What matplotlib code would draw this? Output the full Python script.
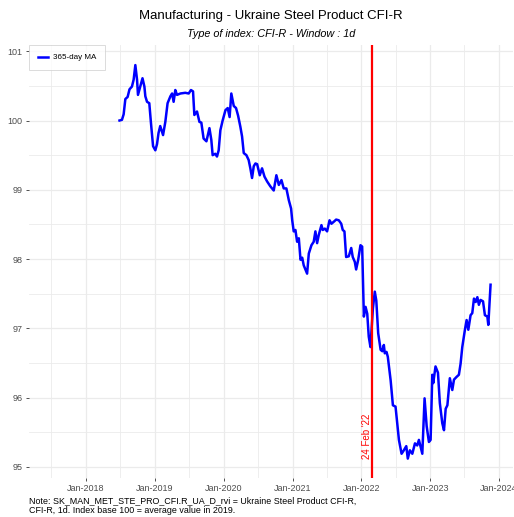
import numpy as np
import pandas as pd
import matplotlib
matplotlib.use("Agg")
import matplotlib.pyplot as plt
import matplotlib.dates as mdates

plt.rcParams['font.family'] = ['Liberation Sans', 'DejaVu Sans']

# 365-day moving average
dates = [
    "2018-06-28", "2018-07-11", "2018-07-20", "2018-07-29", "2018-08-10", "2018-08-20",
    "2018-09-02", "2018-09-11", "2018-09-20", "2018-09-29", "2018-10-04", "2018-10-16",
    "2018-10-28", "2018-11-07", "2018-11-12", "2018-11-21", "2018-12-03", "2018-12-12",
    "2018-12-23", "2019-01-04", "2019-01-13", "2019-01-21", "2019-01-30", "2019-02-14",
    "2019-02-26", "2019-03-10", "2019-03-25", "2019-04-03", "2019-04-11", "2019-04-20",
    "2019-04-29", "2019-05-17", "2019-06-12", "2019-06-30", "2019-07-12", "2019-07-23",
    "2019-07-30", "2019-08-13", "2019-08-26", "2019-09-05", "2019-09-17", "2019-10-02",
    "2019-10-18", "2019-10-28", "2019-11-04", "2019-11-18", "2019-11-27", "2019-12-06",
    "2019-12-15", "2019-12-27", "2020-01-11", "2020-01-23", "2020-02-02", "2020-02-11",
    "2020-02-24", "2020-03-07", "2020-03-18", "2020-03-30", "2020-04-08", "2020-04-17",
    "2020-05-01", "2020-05-13", "2020-05-22", "2020-05-31", "2020-06-09", "2020-06-18",
    "2020-06-27", "2020-07-11", "2020-07-23", "2020-08-05", "2020-08-19", "2020-09-05",
    "2020-09-23", "2020-10-07", "2020-10-20", "2020-11-03", "2020-11-15", "2020-11-29",
    "2020-12-12", "2020-12-24", "2020-12-30", "2021-01-07", "2021-01-16", "2021-01-25",
    "2021-02-03", "2021-02-12", "2021-02-21", "2021-03-01", "2021-03-19", "2021-03-28",
    "2021-04-11", "2021-04-23", "2021-05-02", "2021-05-11", "2021-05-20", "2021-06-03",
    "2021-06-10", "2021-06-21", "2021-07-03", "2021-07-16", "2021-07-26", "2021-08-08",
    "2021-08-20", "2021-09-03", "2021-09-16", "2021-09-24", "2021-10-03", "2021-10-12",
    "2021-10-26", "2021-11-08", "2021-11-16", "2021-11-27", "2021-12-04", "2021-12-15",
    "2021-12-27", "2022-01-05", "2022-01-14", "2022-01-23", "2022-02-01", "2022-02-09",
    "2022-02-18", "2022-03-03", "2022-03-13", "2022-03-21", "2022-03-31", "2022-04-13",
    "2022-04-22", "2022-04-30", "2022-05-05", "2022-05-14", "2022-05-21", "2022-06-05",
    "2022-06-17", "2022-07-01", "2022-07-10", "2022-07-19", "2022-08-02", "2022-08-14",
    "2022-08-27", "2022-09-04", "2022-09-15", "2022-09-28", "2022-10-12", "2022-10-24",
    "2022-11-02", "2022-11-11", "2022-11-20", "2022-12-02", "2022-12-13", "2022-12-25",
    "2023-01-03", "2023-01-12", "2023-01-17", "2023-01-29", "2023-02-11", "2023-02-21",
    "2023-03-06", "2023-03-15", "2023-03-24", "2023-04-02", "2023-04-15", "2023-04-28",
    "2023-05-07", "2023-05-21", "2023-06-02", "2023-06-11", "2023-06-20", "2023-07-04",
    "2023-07-13", "2023-07-22", "2023-08-03", "2023-08-12", "2023-08-21", "2023-08-30",
    "2023-09-08", "2023-09-16", "2023-09-25", "2023-10-08", "2023-10-18", "2023-10-31",
    "2023-11-05", "2023-11-17",
]
values = [
    100.00, 100.01, 100.09, 100.31, 100.34, 100.45,
    100.49, 100.59, 100.80, 100.59, 100.37, 100.49,
    100.61, 100.49, 100.35, 100.27, 100.25, 99.96,
    99.63, 99.57, 99.66, 99.82, 99.92, 99.79,
    99.98, 100.25, 100.35, 100.39, 100.27, 100.44,
    100.37, 100.39, 100.40, 100.39, 100.44, 100.42,
    100.08, 100.13, 99.98, 99.97, 99.74, 99.70,
    99.89, 99.72, 99.50, 99.52, 99.48, 99.57,
    99.86, 100.00, 100.15, 100.18, 100.05, 100.39,
    100.21, 100.18, 100.07, 99.91, 99.77, 99.53,
    99.50, 99.43, 99.31, 99.17, 99.34, 99.38,
    99.37, 99.21, 99.31, 99.19, 99.12, 99.05,
    98.99, 99.21, 99.07, 99.14, 99.02, 99.02,
    98.85, 98.73, 98.56, 98.40, 98.42, 98.25,
    98.30, 97.99, 98.02, 97.91, 97.79, 98.08,
    98.20, 98.25, 98.40, 98.23, 98.35, 98.49,
    98.42, 98.44, 98.40, 98.56, 98.51, 98.54,
    98.57, 98.56, 98.51, 98.42, 98.40, 98.03,
    98.04, 98.16, 98.03, 97.96, 97.85, 97.99,
    98.20, 98.18, 97.17, 97.31, 97.21, 96.88,
    96.73, 97.29, 97.53, 97.40, 96.93, 96.69,
    96.67, 96.76, 96.64, 96.66, 96.59, 96.25,
    95.89, 95.87, 95.63, 95.39, 95.19, 95.24,
    95.30, 95.12, 95.24, 95.19, 95.34, 95.31,
    95.39, 95.29, 95.19, 95.99, 95.59, 95.36,
    95.39, 96.33, 96.21, 96.45, 96.36, 95.92,
    95.63, 95.53, 95.84, 95.89, 96.28, 96.11,
    96.26, 96.30, 96.33, 96.49, 96.73, 96.98,
    97.12, 96.98, 97.19, 97.22, 97.43, 97.38,
    97.45, 97.34, 97.41, 97.39, 97.19, 97.17,
    97.05, 97.63,
]
event_date = "2022-02-24"
event_label = "24 Feb '22"

x = pd.to_datetime(dates)
ev = pd.Timestamp(event_date)

fig = plt.figure(figsize=(5.14, 5.17), dpi=100)
ax = fig.add_axes([29 / 514, 1 - 478 / 517, 484 / 514, 433 / 517])

ax.plot(x, values, color='#0000FF', lw=1.8, label='365-day MA', zorder=3)
ax.axvline(ev, color='#FF0000', lw=1.6, zorder=4)
ax.text(ev - pd.Timedelta(days=22), 95.11, event_label, rotation=90, color='#FF0000',
        fontsize=7, ha='center', va='bottom', zorder=5)

ax.xaxis.set_major_locator(mdates.YearLocator())
ax.xaxis.set_major_formatter(mdates.DateFormatter('Jan-%Y'))
ax.xaxis.set_minor_locator(mdates.MonthLocator(bymonth=7))
ax.set_yticks([95, 96, 97, 98, 99, 100, 101])
ax.set_yticks(np.arange(94.5, 101.5, 1.0), minor=True)

# limits after ticks, otherwise set_yticks widens the view
ax.set_xlim(pd.Timestamp("2017-03-05"), pd.Timestamp("2024-03-15"))
ax.set_ylim(94.84, 101.09)

ax.grid(which='major', color='#EBEBEB', lw=0.9)
ax.grid(which='minor', color='#EBEBEB', lw=0.6)
ax.set_axisbelow(True)
for s in ax.spines.values():
    s.set_visible(False)
ax.tick_params(which='major', length=2.5, width=0.6, color='#333333',
               labelsize=6.5, labelcolor='#4D4D4D', pad=2)
ax.tick_params(which='minor', length=0)

leg = ax.legend(loc='upper left', fontsize=5.8, frameon=True, fancybox=False,
                handlelength=1.2, handletextpad=0.7, borderaxespad=0, borderpad=1.1)
leg.get_frame().set_edgecolor('#CCCCCC')
leg.get_frame().set_linewidth(0.6)

fig.text(271 / 514, 1 - 16 / 517, "Manufacturing - Ukraine Steel Product CFI-R",
         ha='center', va='center', fontsize=9.5)
fig.text(271 / 514, 1 - 34 / 517, "Type of index: CFI-R - Window : 1d",
         ha='center', va='center', fontsize=7.8, style='italic')
fig.text(29 / 514, 1 - 496 / 517,
         "Note: SK_MAN_MET_STE_PRO_CFI.R_UA_D_rvi = Ukraine Steel Product CFI-R,\n"
         "CFI-R, 1d. Index base 100 = average value in 2019.",
         ha='left', va='top', fontsize=6.4, linespacing=1.1)

fig.savefig('out.png', dpi=100)
